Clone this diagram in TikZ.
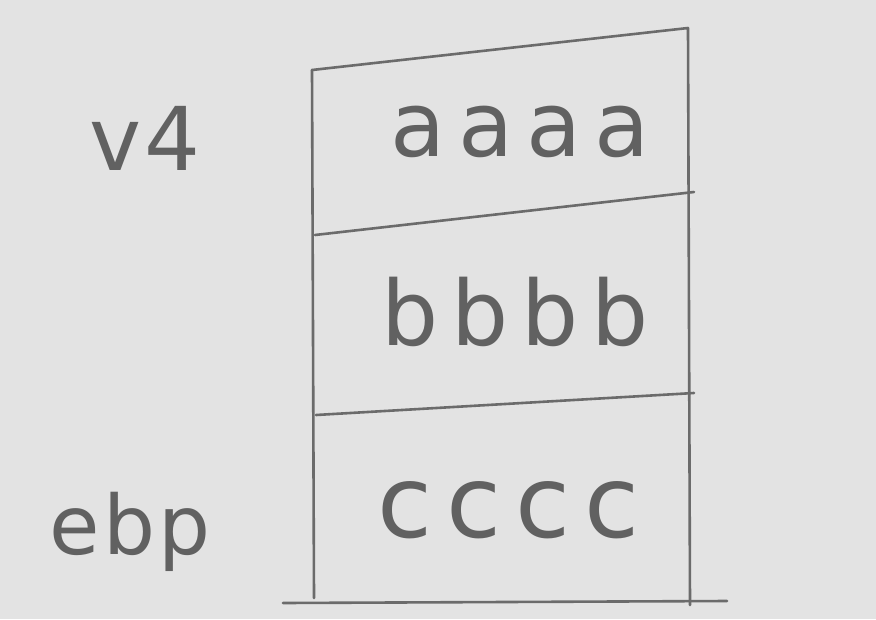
\documentclass[tikz,border=0pt]{standalone}
\usepackage{fontspec}
\newfontfamily\hand[LetterSpace=14]{DejaVu Sans}
\newfontfamily\handb[LetterSpace=4]{DejaVu Sans}
\begin{document}
\begin{tikzpicture}[x=1pt,y=-1pt,
  pencil/.style={draw=black!58, line width=2.6pt, line cap=round, line join=round},
  lbl/.style={text=black!62, inner sep=0pt}]
\fill[black!11] (0,0) rectangle (876,619);
\useasboundingbox (0,0) rectangle (876,619);
% box corners
\coordinate (tl) at (312,70);
\coordinate (tr) at (688,28);
\coordinate (bl) at (314,598);
\coordinate (br) at (690,605);
\coordinate (d1l) at (315,235);
\coordinate (d1r) at (694,192);
\coordinate (d2l) at (316,415);
\coordinate (d2r) at (694,393);
\coordinate (bbl) at (283,603);
\coordinate (bbr) at (727,601);
\draw[pencil] (tl) -- (bl);
\draw[pencil] (tl) -- (tr) -- (br);
\draw[pencil] (d1l) -- (d1r);
\draw[pencil] (d2l) -- (d2r);
\draw[pencil] (bbl) -- (bbr);
% texts
\node[lbl, font=\hand\fontsize{90}{90}\selectfont] (a) at (520,132) {aaaa};
\node[lbl, font=\hand\fontsize{90}{90}\selectfont] (b) at (515,312) {bbbb};
\node[lbl, font=\hand\fontsize{100}{100}\selectfont] (c) at (508,510) {cccc};
\node[lbl, font=\handb\fontsize{88}{88}\selectfont] (v) at (145,138) {v4};
\node[lbl, font=\handb\fontsize{82}{82}\selectfont] (e) at (130,532) {ebp};
\end{tikzpicture}
\end{document}
